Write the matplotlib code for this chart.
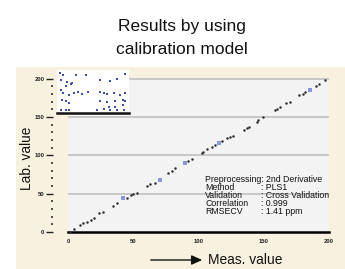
import matplotlib
matplotlib.use("Agg")
import matplotlib.pyplot as plt
from matplotlib.patches import FancyArrowPatch
from matplotlib.ticker import MultipleLocator

plt.rcParams['font.family'] = ['Liberation Sans', 'DejaVu Sans']

W, H = 345, 269

# ---- data ----
meas_black = [1.5, 4.6, 9.2, 11.5, 14.6, 17.6, 19.9, 23.8, 26.8, 34.5, 37.5, 45.2, 48.3,
              49.8, 52.9, 60.5, 62.8, 66.7, 76.6, 79.6, 82.0, 92.2, 94.8, 102.5, 103.7,
              106.3, 110.1, 112.6, 117.8, 121.6, 124.1, 126.7, 134.9, 136.9, 138.7, 144.6,
              145.8, 149.2, 158.6, 160.4, 162.5, 167.1, 170.1, 177.2, 179.8, 181.6, 189.8,
              192.3, 196.9]
lab_black = [0.0, 3.9, 9.2, 11.8, 13.1, 15.7, 18.3, 24.8, 26.1, 34.0, 37.9, 44.4, 48.4,
             49.7, 51.0, 60.1, 62.7, 64.1, 77.1, 79.7, 83.3, 92.8, 95.0, 102.9, 105.0,
             108.1, 110.7, 113.7, 119.0, 122.5, 123.8, 125.5, 133.3, 135.6, 137.6, 144.2,
             146.4, 149.9, 159.5, 160.8, 163.8, 168.2, 170.3, 178.2, 180.0, 182.6, 190.8,
             193.5, 197.8]
meas_blue = [42.1, 70.5, 89.7, 116.0, 185.4]
lab_blue = [44.4, 68.0, 90.6, 116.7, 185.6]

y_ticks = [0, 50, 100, 150, 200]
y_tick_labels = ["0", "50", "100", "150", "200"]
x_ticks = [0, 50, 100, 150, 200]
x_tick_labels = ["0", "50", "100", "150", "200"]

# speckle overlay (relative units 0-100)
speck_u = [4, 9, 26, 40, 95, 5, 14, 19, 21, 12, 60, 74, 84, 5, 9, 16, 23, 29, 35, 43,
           60, 65, 70, 79, 88, 95, 7, 12, 16, 60, 70, 81, 91, 95, 5, 12, 16, 56, 65, 74,
           84, 93, 91, 81, 72]
speck_v = [92, 88, 88, 88, 91, 77, 73, 68, 69, 63, 77, 75, 78, 54, 46, 42, 46, 50, 45, 48,
           50, 46, 45, 46, 42, 46, 31, 27, 23, 27, 25, 27, 31, 27, 8, 8, 6, 8, 9, 6,
           8, 8, 19, 15, 15]

annot_keys = ["Method", "Validation", "Correlation", "RMSECV"]
annot_vals = [": PLS1", ": Cross Validation", ": 0.999", ": 1.41 ppm"]
annot_head = "Preprocessing: 2nd Derivative"

fig = plt.figure(figsize=(W / 100, H / 100), dpi=100)
fig.patch.set_facecolor('white')

def fx(x):
    return x / W

def fy(y):
    return 1 - y / H

# beige panel (background axes)
bg = fig.add_axes([fx(16), 0, fx(345) - fx(16), fy(67)], zorder=-5)
bg.set_facecolor('#f8f1df')
bg.set_xticks([])
bg.set_yticks([])
for s in bg.spines.values():
    s.set_visible(False)

ax = fig.add_axes([fx(68), fy(232), fx(329) - fx(68), (232 - 78) / H], zorder=1)
ax.set_facecolor('#f3f3f3')
ax.set_xlim(0, 200)
ax.set_ylim(0, 201)

for y in y_ticks[1:]:
    ax.axhline(y, color='#c4c4c4', lw=1.3, zorder=1)

ax.scatter(meas_black, lab_black, s=3.2, color='#2e2e2e', zorder=3, linewidths=0)
ax.scatter(meas_blue, lab_blue, s=5, marker='s', color='#8a96dc', zorder=3, linewidths=0)

for s in ['top', 'right']:
    ax.spines[s].set_visible(False)
ax.spines['bottom'].set_color('black')
ax.spines['bottom'].set_linewidth(1.8)
ax.spines['left'].set_position(('outward', 11))
ax.spines['left'].set_visible(False)

ax.set_yticks(y_ticks)
ax.set_yticklabels(y_tick_labels, fontweight='bold')
ax.yaxis.set_minor_locator(MultipleLocator(10))
ax.tick_params(axis='y', which='major', length=5, width=1, color='#222222', pad=1,
               labelsize=4.2, labelcolor='#222222')
ax.tick_params(axis='y', which='minor', length=1.2, width=1.2, color='#333333')
ax.set_xticks(x_ticks)
ax.set_xticklabels(x_tick_labels, fontweight='bold')
ax.tick_params(axis='x', which='major', length=0, pad=5, labelsize=4.2, labelcolor='#222222')

# speckle overlay box
ins = fig.add_axes([fx(57), fy(113), fx(129) - fx(57), (113 - 70) / H], zorder=2)
ins.set_facecolor('white')
ins.set_xlim(0, 100)
ins.set_ylim(0, 100)
ins.scatter(speck_u, speck_v, s=3.5, marker='s', color='#3a4fb0', linewidths=0)
ins.set_xticks([])
ins.set_yticks([])
for s in ['top', 'right', 'left']:
    ins.spines[s].set_visible(False)
ins.spines['bottom'].set_linewidth(1.8)
ins.spines['bottom'].set_color('#111111')

# titles and labels
fig.text(fx(182), fy(31), "Results by using", ha='center', va='baseline', fontsize=12.5,
         color='#111111')
fig.text(fx(182), fy(54), "calibration model", ha='center', va='baseline', fontsize=12.5,
         color='#111111')
fig.text(fx(27), fy(158), "Lab. value", rotation=90, ha='center', va='center', fontsize=9.8,
         color='#111111', zorder=5)
fig.text(fx(208), fy(259.5), "Meas. value", ha='left', va='center', fontsize=9.9,
         color='#111111', zorder=5)
fig.patches.append(FancyArrowPatch(
    (fx(148), fy(260)), (fx(205), fy(260)), transform=fig.transFigure,
    arrowstyle='-|>,head_length=4,head_width=1.8', color='#111111', lw=1, mutation_scale=1.6,
    zorder=5))

fig.text(fx(205), fy(180), annot_head, ha='left', va='center', fontsize=6.3, color='#111111',
         zorder=5)
for i, (k, v) in enumerate(zip(annot_keys, annot_vals)):
    yy = 188 + 8 * i
    fig.text(fx(205), fy(yy), k, ha='left', va='center', fontsize=6.3, color='#111111', zorder=5)
    fig.text(fx(261), fy(yy), v, ha='left', va='center', fontsize=6.3, color='#111111', zorder=5)

fig.savefig('out.png', dpi=100, facecolor=fig.get_facecolor())
